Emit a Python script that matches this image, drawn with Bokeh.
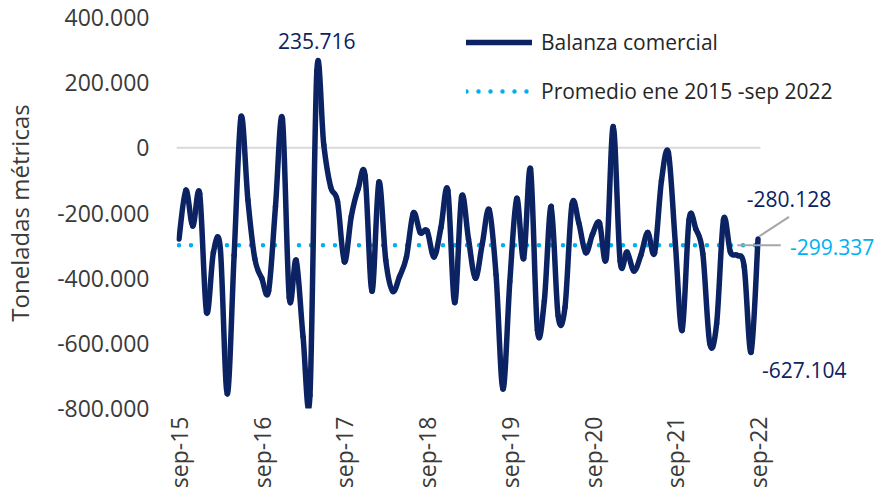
import numpy as np
from bokeh.plotting import figure
from bokeh.models import (ColumnDataSource, FixedTicker, Label, Legend, LegendItem,
                          Range1d)
from bokeh.embed import file_html
from bokeh.resources import INLINE

# ---------------- data ----------------
tick_labels = ["sep-15", "sep-16", "sep-17", "sep-18", "sep-19", "sep-20", "sep-21", "sep-22"]
y_ticks = [-800000, -600000, -400000, -200000, 0, 200000, 400000]

balanza = [
    -280000, -130000, -240000, -140000, -505000, -320000, -310000, -755000, -330000, 95000,
    -160000, -340000, -400000, -440000, -180000, 90000, -460000, -345000, -580000, -760000,
    235716, 10000, -120000, -165000, -350000, -210000, -125000, -85000, -440000, -105000,
    -345000, -440000, -395000, -335000, -200000, -260000, -255000, -335000, -245000, -130000,
    -475000, -150000, -280000, -400000, -295000, -190000, -390000, -740000, -410000, -155000,
    -340000, -65000, -560000, -470000, -180000, -515000, -490000, -175000, -230000, -322000,
    -265000, -230000, -338000, 65000, -348000, -320000, -378000, -330000, -260000, -322000,
    -100000, -15000, -290000, -560000, -220000, -250000, -325000, -600000, -540000, -220000,
    -320000, -330000, -365000, -627104, -280128,
]
promedio = -299337

# ---------------- styling ----------------
NAVY = "#0B2263"
CYAN = "#00B0F0"
GRAY_TXT = "#3A3A3A"
FONT = "Open Sans"

x = np.arange(len(balanza), dtype=float)
y = np.array(balanza, dtype=float)

# smoothed line (Excel-like) through every data point: cubic Bezier segments
xp = np.concatenate([[x[0]], x, [x[-1]]])
yp = np.concatenate([[y[0]], y, [y[-1]]])
n = len(x)
seg = ColumnDataSource(dict(
    x0=xp[1:n], y0=yp[1:n],
    x1=xp[2:n + 1], y1=yp[2:n + 1],
    cx0=xp[1:n] + (xp[2:n + 1] - xp[0:n - 1]) / 6.0,
    cy0=yp[1:n] + (yp[2:n + 1] - yp[0:n - 1]) / 6.0,
    cx1=xp[2:n + 1] - (xp[3:n + 2] - xp[1:n]) / 6.0,
    cy1=yp[2:n + 1] - (yp[3:n + 2] - yp[1:n]) / 6.0,
))

W, H = 892, 500
LEFT, TOP, BOTTOM = 176, 17, 92
px_per_unit = 6.893
frame_w = W - LEFT
x_start = -0.36
x_end = x_start + frame_w / px_per_unit

p = figure(width=W, height=H, output_backend="svg", toolbar_location=None,
           x_range=Range1d(x_start, x_end), y_range=Range1d(y_ticks[0], y_ticks[-1]),
           min_border_left=LEFT, min_border_right=0, min_border_top=TOP,
           min_border_bottom=BOTTOM)
p.outline_line_color = None
p.background_fill_color = "white"
p.border_fill_color = "white"
p.xgrid.grid_line_color = None
p.ygrid.grid_line_color = None

# zero line
p.line(x=[x_start, x[-1] + 0.36], y=[0, 0], line_color="#D9D9D9", line_width=2)

# average (dotted)
avg_r = p.line(x=[x[0], x[-1]], y=[promedio, promedio], line_color=CYAN, line_width=4.5,
               line_dash="0 12", line_cap="round")

# series
bal_r = p.bezier(x0="x0", y0="y0", x1="x1", y1="y1", cx0="cx0", cy0="cy0", cx1="cx1",
                 cy1="cy1", source=seg, line_color=NAVY, line_width=5.5, line_cap="round")

# leader lines
p.line(x=[x[-1] + 0.15, x[-1] + 4.5], y=[y[-1] + 8000, y[-1] + 68000], line_color="#A6A6A6", line_width=2)
p.line(x=[x[-1] - 3, x[-1] + 3.3], y=[promedio, promedio], line_color="#A6A6A6", line_width=2)

# axes
p.yaxis.ticker = FixedTicker(ticks=y_ticks)
p.yaxis.major_label_overrides = {t: ("0" if t == 0 else f"{t:,}".replace(",", ".")) for t in y_ticks}
p.yaxis.axis_line_color = None
p.yaxis.major_tick_line_color = None
p.yaxis.minor_tick_line_color = None
p.yaxis.major_tick_out = 0
p.yaxis.major_tick_in = 0
p.yaxis.major_label_standoff = 27
p.yaxis.major_label_text_font = FONT
p.yaxis.major_label_text_font_size = "23px"
p.yaxis.major_label_text_color = GRAY_TXT
p.yaxis.axis_label = "Toneladas métricas"
p.yaxis.axis_label_text_font = FONT
p.yaxis.axis_label_text_font_size = "24px"
p.yaxis.axis_label_text_font_style = "normal"
p.yaxis.axis_label_text_color = GRAY_TXT
p.yaxis.axis_label_standoff = 18

xt = list(range(0, len(balanza), 12))
p.xaxis.ticker = FixedTicker(ticks=xt)
p.xaxis.major_label_overrides = {t: lab for t, lab in zip(xt, tick_labels)}
p.xaxis.major_label_orientation = np.pi / 2
p.xaxis.axis_line_color = None
p.xaxis.major_tick_line_color = None
p.xaxis.minor_tick_line_color = None
p.xaxis.major_tick_out = 0
p.xaxis.major_tick_in = 0
p.xaxis.major_label_standoff = 8
p.xaxis.major_label_text_font = FONT
p.xaxis.major_label_text_font_size = "23px"
p.xaxis.major_label_text_color = GRAY_TXT

# data labels
imax = int(np.argmax(y))
imin = int(np.argmin(y[-3:])) + len(y) - 3
lab_kw = dict(text_font=FONT, text_font_size="21px")
p.add_layout(Label(x=x[imax], y=y[imax], text=f"{int(y[imax]):,}".replace(",", "."),
                   text_align="center", text_baseline="middle", y_offset=30,
                   text_color=NAVY, **lab_kw))
p.add_layout(Label(x=x[-1], y=y[-1], text=f"{int(y[-1]):,}".replace(",", "."),
                   text_align="center", text_baseline="middle", x_offset=31, y_offset=40,
                   text_color=NAVY, **lab_kw))
p.add_layout(Label(x=x[-1], y=promedio, text=f"{promedio:,}".replace(",", "."),
                   text_align="left", text_baseline="middle", x_offset=32, y_offset=-2,
                   text_color=CYAN, **lab_kw))
p.add_layout(Label(x=x[imin], y=y[imin], text=f"{int(y[imin]):,}".replace(",", "."),
                   text_align="left", text_baseline="middle", x_offset=11, y_offset=-18,
                   text_color=NAVY, **lab_kw))

legend = Legend(items=[LegendItem(label="Balanza comercial", renderers=[bal_r]),
                       LegendItem(label="Promedio ene 2015 -sep 2022", renderers=[avg_r])],
                location=(290, 303), orientation="vertical",
                glyph_width=66, glyph_height=24, label_height=24, label_standoff=9,
                spacing=21, padding=0, margin=0,
                border_line_color=None, background_fill_alpha=0,
                label_text_font=FONT, label_text_font_size="21px", label_text_color="#262626")
p.add_layout(legend, "center")

open("out.html", "w").write(file_html(p, INLINE))
